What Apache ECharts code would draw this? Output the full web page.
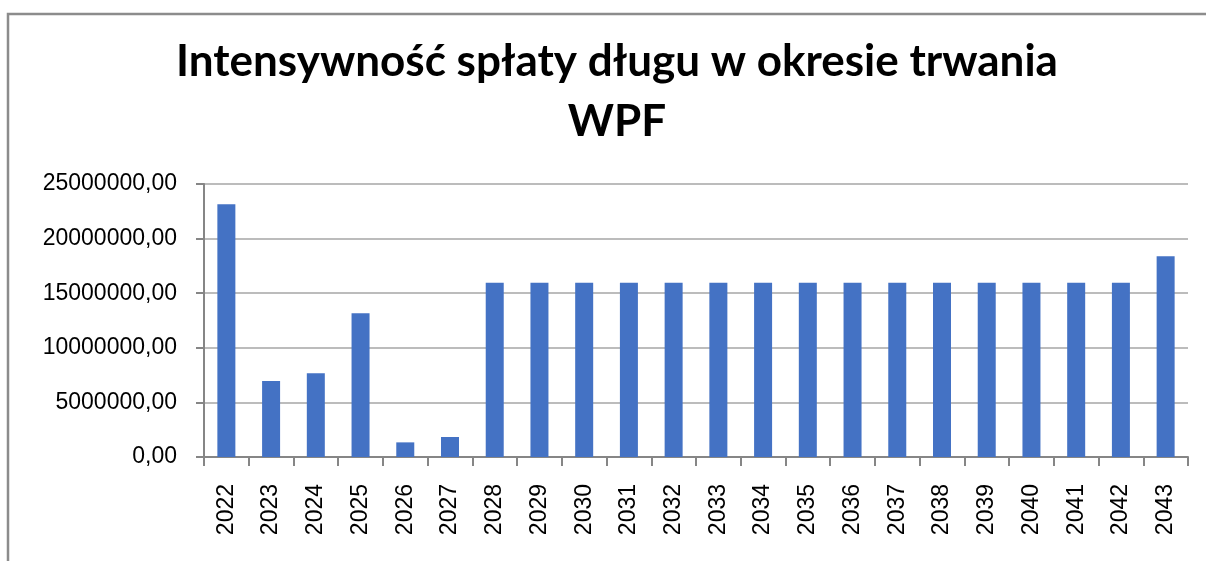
<!DOCTYPE html>
<html>
<head>
<meta charset="utf-8">
<script src="https://cdn.jsdelivr.net/npm/echarts@6/dist/echarts.min.js"></script>
<style>
  html, body { margin: 0; padding: 0; background: #fff; }
  #chart { width: 1206px; height: 561px; }
</style>
</head>
<body>
<div id="chart"></div>
<script>
// lata spłaty
const years = ['2022', '2023', '2024', '2025', '2026', '2027', '2028', '2029', '2030', '2031', '2032',
  '2033', '2034', '2035', '2036', '2037', '2038', '2039', '2040', '2041', '2042', '2043'];
// kwoty spłaty długu
const splaty = [23150000, 6950000, 7680000, 13170000, 1340000, 1830000, 15950000, 15950000, 15950000,
  15950000, 15950000, 15950000, 15950000, 15950000, 15950000, 15950000, 15950000, 15950000,
  15950000, 15950000, 15950000, 18390000];

const myChart = echarts.init(document.getElementById('chart'));

const option = {
  backgroundColor: '#fff',
  animation: false,
  title: {
    text: 'Intensywność spłaty długu w okresie trwania\nWPF',
    left: 612,
    top: 27,
    textAlign: 'center',
    textStyle: {
      fontFamily: 'Lato',
      fontWeight: 'bold',
      fontSize: 44,
      lineHeight: 60,
      color: '#000'
    }
  },
  // ramka wykresu (widoczna tylko góra i lewa strona)
  graphic: [{
    type: 'polyline',
    shape: { points: [[8, 561], [8, 14], [1206, 14]] },
    style: { fill: 'none', stroke: '#8c8c8c', lineWidth: 2.5 },
    silent: true
  }],
  grid: { left: 204, right: 18, top: 184, bottom: 104 },
  xAxis: {
    type: 'category',
    data: years,
    axisLine: { lineStyle: { color: '#868686', width: 2 } },
    axisTick: { show: true, length: 9, lineStyle: { color: '#868686', width: 2 } },
    axisLabel: {
      rotate: 90,
      margin: 27,
      fontFamily: 'Liberation Sans',
      fontSize: 23,
      color: '#000',
      interval: 0
    }
  },
  yAxis: {
    type: 'value',
    min: 0,
    max: 25000000,
    interval: 5000000,
    axisLine: { show: true, lineStyle: { color: '#868686', width: 2 } },
    axisTick: { show: true, length: 8, lineStyle: { color: '#868686', width: 2 } },
    splitLine: { lineStyle: { color: '#a6a6a6', width: 1.5 } },
    axisLabel: {
      margin: 27,
      fontFamily: 'Liberation Sans',
      fontSize: 23,
      color: '#000',
      formatter: function (v) { return v + ',00'; }
    }
  },
  series: [{
    name: 'Spłata',
    type: 'bar',
    data: splaty,
    barWidth: 18,
    itemStyle: { color: '#4472C4' }
  }]
};

myChart.setOption(option);
</script>
</body>
</html>
